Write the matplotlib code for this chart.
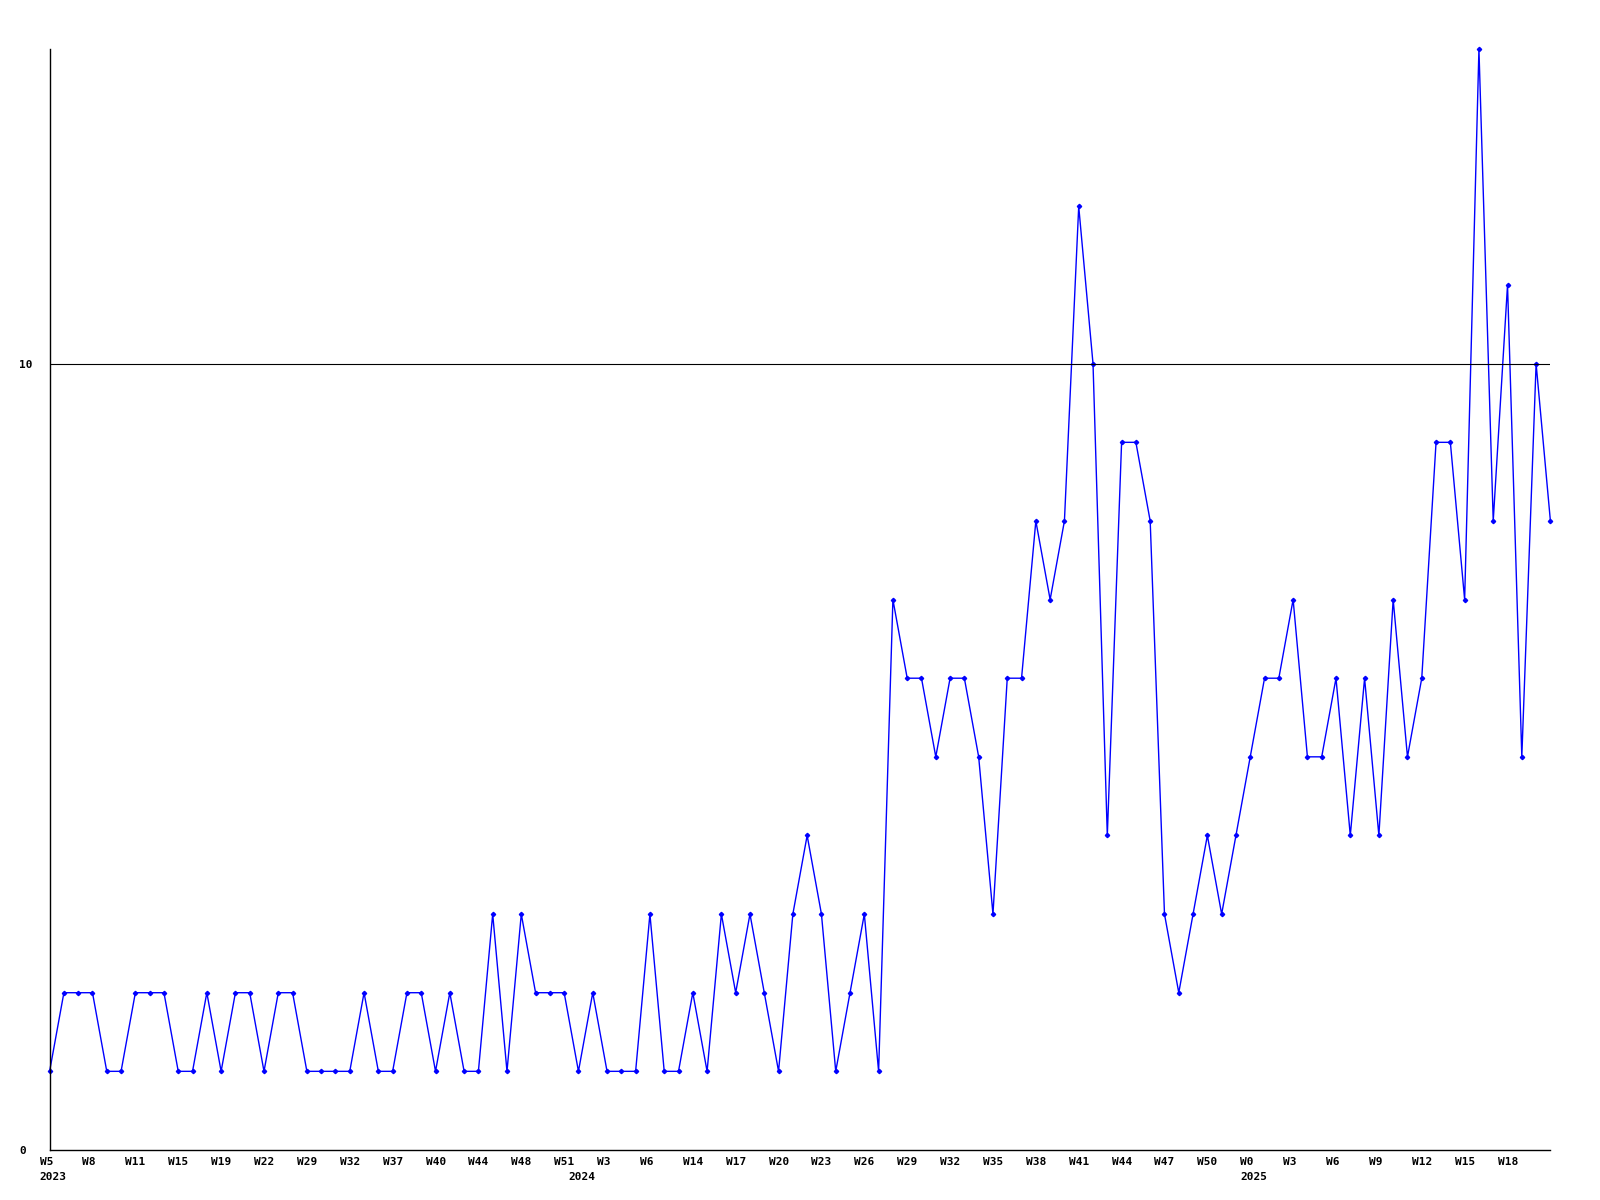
import matplotlib
matplotlib.use("Agg")
import matplotlib.pyplot as plt
import matplotlib.transforms as mtransforms
import numpy as np

# weekly counts, one point per sampled week
counts = [1, 2, 2, 2, 1, 1, 2, 2, 2, 1,
          1, 2, 1, 2, 2, 1, 2, 2, 1, 1,
          1, 1, 2, 1, 1, 2, 2, 1, 2, 1,
          1, 3, 1, 3, 2, 2, 2, 1, 2, 1,
          1, 1, 3, 1, 1, 2, 1, 3, 2, 3,
          2, 1, 3, 4, 3, 1, 2, 3, 1, 7,
          6, 6, 5, 6, 6, 5, 3, 6, 6, 8,
          7, 8, 12, 10, 4, 9, 9, 8, 3, 2,
          3, 4, 3, 4, 5, 6, 6, 7, 5, 5,
          6, 4, 6, 4, 7, 5, 6, 9, 9, 7,
          14, 8, 11, 5, 10, 8]

week_labels = ['W5', 'W8', 'W11', 'W15', 'W19', 'W22', 'W29', 'W32', 'W37', 'W40',
               'W44', 'W48', 'W51', 'W3', 'W6', 'W14', 'W17', 'W20', 'W23', 'W26',
               'W29', 'W32', 'W35', 'W38', 'W41', 'W44', 'W47', 'W50', 'W0', 'W3',
               'W6', 'W9', 'W12', 'W15', 'W18']
week_pos = list(range(0, 3 * len(week_labels), 3))

year_labels = ['2023', '2024', '2025']
year_pos = [0, 37, 84]

font = dict(family='DejaVu Sans Mono', weight='bold', size=8)

fig = plt.figure(figsize=(16, 12), dpi=100)
ax = fig.add_axes([0.031, 0.0417, 0.938, 0.9173])

x = np.arange(len(counts))
ax.plot(x, counts, color='#0000ff', lw=1, marker='D', ms=2.2, clip_on=False)
ax.axhline(10, color='black', lw=0.8)

ax.set_xlim(0, len(counts) - 1)
ax.set_ylim(0, 14)
ax.spines['top'].set_visible(False)
ax.spines['right'].set_visible(False)
ax.spines['left'].set_linewidth(1)
ax.spines['bottom'].set_linewidth(1)

ax.set_yticks([0, 10])
ax.set_yticklabels(['0', '10'], fontdict=font)
ax.set_xticks(week_pos)
ax.set_xticklabels(week_labels, fontdict=font)
ax.tick_params(axis='both', length=0)
ax.tick_params(axis='x', pad=5)
ax.tick_params(axis='y', pad=22)

shift = mtransforms.ScaledTranslation(-10 / 100, 0, fig.dpi_scale_trans)
for lbl in ax.get_xticklabels():
    lbl.set_horizontalalignment('left')
    lbl.set_transform(lbl.get_transform() + shift)
for lbl in ax.get_yticklabels():
    lbl.set_horizontalalignment('left')

for pos, yr in zip(year_pos, year_labels):
    ax.annotate(yr, xy=(pos, 0), xycoords=('data', 'axes fraction'),
                xytext=(-10, -22), textcoords='offset pixels',
                ha='left', va='top', **font)

plt.savefig('out.png', dpi=100)
